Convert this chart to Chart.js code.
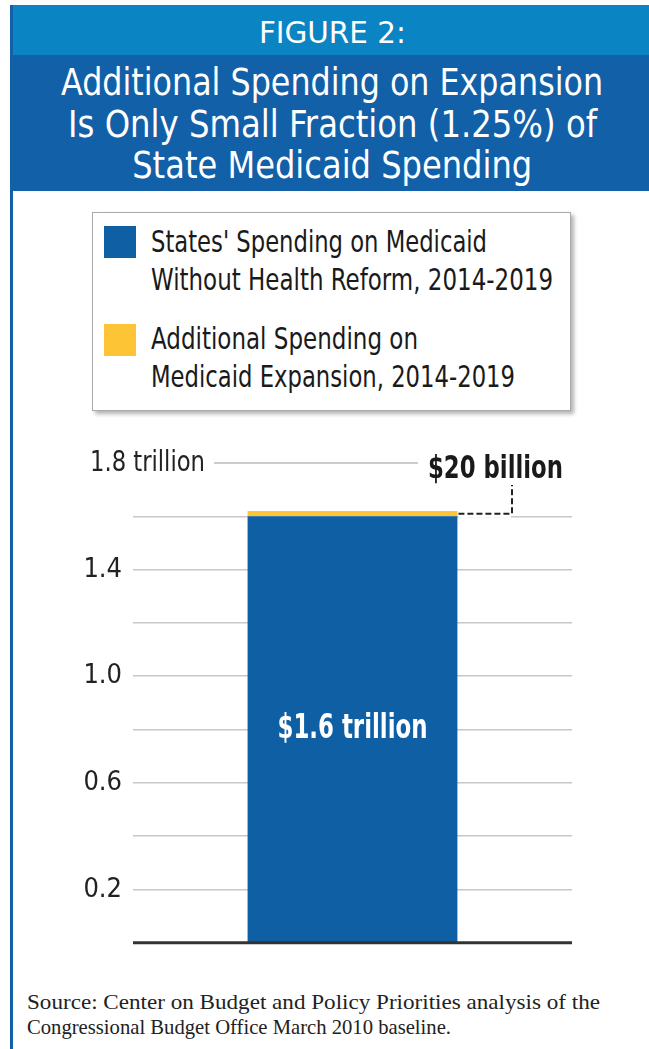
<!DOCTYPE html>
<html>
<head>
<meta charset="utf-8">
<script src="https://cdn.jsdelivr.net/npm/chart.js@4/dist/chart.umd.min.js"></script>
<style>
  body { margin: 0; width: 649px; height: 1049px; background: #fff; overflow: hidden; position: relative; font-family: 'DejaVu Sans Condensed', 'Liberation Sans', sans-serif; }
  .abs { position: absolute; }
  #band1 { left: 10px; top: 5px; width: 639px; height: 50px; background: #0A84C2; }
  #band2 { left: 10px; top: 55px; width: 639px; height: 136px; background: #1260A7; }
  #leftLine { left: 10px; top: 5px; width: 3px; height: 1044px; background: #1260A7; }
  .title { left: 13px; width: 639px; text-align: center; color: #fff; white-space: nowrap; }
  .title span, .lt span, #source span { display: inline-block; white-space: nowrap; }
  .title span { transform-origin: 50% 50%; }
  .lt span, #source span { transform-origin: 0 50%; }
  #fig { top: 16px; font-size: 30px; line-height: 34px; }
  .tline { font-size: 37px; line-height: 42px; }
  #legendBox { left: 92px; top: 212px; width: 479px; height: 199px; box-sizing: border-box; border: 1px solid #aaa; box-shadow: 3px 3px 4px rgba(0,0,0,0.3); background: #fff; }
  .sw { width: 32px; height: 32px; }
  .lt { font-size: 31px; line-height: 38px; color: #1a1a1a; }
  #source { left: 27px; top: 990px; font-family: 'Liberation Serif', serif; font-size: 21px; line-height: 25px; color: #222; }
  #source div { height: 25px; }
  #chart { left: 0; top: 430px; }
</style>
</head>
<body>
<div id="band1" class="abs"></div>
<div id="band2" class="abs"></div>
<div id="leftLine" class="abs"></div>
<div id="fig" class="abs title"><span data-w="147">FIGURE 2:</span></div>
<div class="abs title tline" style="top:62px"><span data-w="542">Additional Spending on Expansion</span></div>
<div class="abs title tline" style="top:104px"><span data-w="529">Is Only Small Fraction (1.25%) of</span></div>
<div class="abs title tline" style="top:145px"><span data-w="400">State Medicaid Spending</span></div>
<div id="legendBox" class="abs"></div>
<canvas id="chart" class="abs" width="649" height="540"></canvas>
<div id="source" class="abs">
  <div><span data-w="573">Source: Center on Budget and Policy Priorities analysis of the</span></div>
  <div><span data-w="424">Congressional Budget Office March 2010 baseline.</span></div>
</div>
<script>
// 데이터 (trillion 단위)
var categories = ['2014-2019'];
var baseSpending = [1.6];
var addedSpending = [0.02];
var seriesLabels = [
  ["States' Spending on Medicaid", 'Without Health Reform, 2014-2019'],
  ['Additional Spending on', 'Medicaid Expansion, 2014-2019']
];
var legendWidths = [[336, 402], [267, 364]];
var seriesColors = ['#0E5FA4', '#FDC535'];
var labeledTicks = [0.2, 0.6, 1.0, 1.4];
var topTickLabel = '1.8 trillion';
var baseLabel = '$1.6 trillion';
var addedLabel = '$20 billion';

var narrow = "'DejaVu Sans Condensed', 'Liberation Sans', sans-serif";

// 범례는 html로 그림
var box = document.getElementById('legendBox');
seriesLabels.forEach(function (lines, i) {
  var sw = document.createElement('div');
  sw.className = 'abs sw';
  sw.style.left = '11px';
  sw.style.top = (13 + i * 98) + 'px';
  sw.style.background = seriesColors[i];
  box.appendChild(sw);
  lines.forEach(function (t, j) {
    var d = document.createElement('div');
    d.className = 'abs lt';
    d.style.left = '58px';
    d.style.top = (9 + i * 97 + j * 38) + 'px';
    var s = document.createElement('span');
    s.textContent = t;
    s.setAttribute('data-w', legendWidths[i][j]);
    d.appendChild(s);
    box.appendChild(d);
  });
});

// 글자 폭을 원본에 맞춤 (좁은 글꼴이 없어서)
document.querySelectorAll('span[data-w]').forEach(function (s) {
  var w = s.getBoundingClientRect().width;
  s.style.transform = 'scaleX(' + (parseFloat(s.getAttribute('data-w')) / w) + ')';
});

// 주석: 1.8 trillion, 막대 라벨, $20 billion, 점선
var notes = {
  id: 'notes',
  afterDatasetsDraw: function (chart) {
    var c = chart.ctx;
    var y = chart.scales.y;
    var area = chart.chartArea;
    var bar = chart.getDatasetMeta(0).data[0];
    var top = chart.getDatasetMeta(1).data[0];
    c.save();
    // 바닥선
    c.strokeStyle = '#333';
    c.lineWidth = 3;
    c.beginPath();
    c.moveTo(area.left, y.getPixelForValue(0));
    c.lineTo(area.right, y.getPixelForValue(0));
    c.stroke();
    // 1.8 trillion
    var y18 = y.getPixelForValue(1.8);
    c.fillStyle = '#222';
    c.font = '29px ' + narrow;
    c.textBaseline = 'middle';
    c.textAlign = 'left';
    c.fillText(topTickLabel, 90, y18, 115);
    c.strokeStyle = '#bbb';
    c.lineWidth = 1.5;
    c.beginPath();
    c.moveTo(214, y18);
    c.lineTo(418, y18);
    c.stroke();
    // $20 billion
    c.font = 'bold 32px ' + narrow;
    c.fillStyle = '#1a1a1a';
    c.fillText(addedLabel, 428, y18 + 7, 135);
    // 점선
    var right = bar.x + bar.width / 2;
    var yMid = (top.y + top.base) / 2;
    c.strokeStyle = '#fff';
    c.lineWidth = 3;
    c.beginPath();
    c.moveTo(right + 1, y.getPixelForValue(1.6));
    c.lineTo(511, y.getPixelForValue(1.6));
    c.stroke();
    c.strokeStyle = '#222';
    c.lineWidth = 2;
    c.setLineDash([6, 3]);
    c.beginPath();
    c.moveTo(right + 1, yMid);
    c.lineTo(512, yMid);
    c.lineTo(512, y18 + 22);
    c.stroke();
    c.setLineDash([]);
    // 막대 안 라벨
    c.fillStyle = '#fff';
    c.font = 'bold 33px ' + narrow;
    c.textAlign = 'center';
    c.fillText(baseLabel, bar.x, y.getPixelForValue(0.8), 150);
    c.restore();
  }
};

function isTick(v, list) {
  var r = Math.round(v * 10) / 10;
  return list.some(function (t) { return Math.abs(t - r) < 1e-6; });
}

var ctx = document.getElementById('chart');
var spendChart = new Chart(ctx, {
  type: 'bar',
  data: {
    labels: categories,
    datasets: [{
      label: seriesLabels[0].join(' '),
      data: baseSpending,
      backgroundColor: seriesColors[0],
      borderWidth: 0,
      categoryPercentage: 1,
      barPercentage: 0.478
    }, {
      label: seriesLabels[1].join(' '),
      data: addedSpending,
      backgroundColor: seriesColors[1],
      borderWidth: 0,
      categoryPercentage: 1,
      barPercentage: 0.478
    }]
  },
  options: {
    responsive: false,
    animation: false,
    layout: { padding: { left: 0, right: 77, top: 33, bottom: 27 } },
    plugins: { legend: { display: false }, tooltip: { enabled: false } },
    scales: {
      x: { stacked: true, display: false },
      y: {
        stacked: true,
        min: 0,
        max: 1.8,
        afterFit: function (s) { s.width = 133; },
        border: { display: false },
        grid: {
          drawTicks: false,
          lineWidth: 1.5,
          color: function (c) {
            var v = c.tick ? c.tick.value : 0;
            if (v < 0.01 || v > 1.79) return 'rgba(0,0,0,0)';
            return '#c8c8c8';
          }
        },
        ticks: {
          stepSize: 0.2,
          padding: 11,
          color: '#222',
          font: { family: narrow, size: 27 },
          callback: function (v) {
            return isTick(v, labeledTicks) ? v.toFixed(1) : '';
          }
        }
      }
    }
  },
  plugins: [notes]
});
</script>
</body>
</html>
